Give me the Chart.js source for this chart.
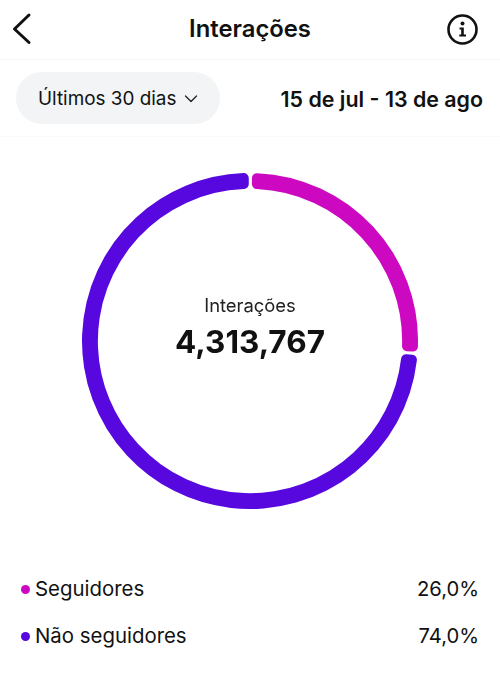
<!DOCTYPE html>
<html lang="pt">
<head>
<meta charset="utf-8">
<title>Interações</title>
<script src="https://cdn.jsdelivr.net/npm/chart.js@4"></script>
<style>
  html, body { margin: 0; padding: 0; background: #fff; }
  body { position: relative; width: 500px; height: 698px; overflow: hidden; font-family: Inter, "Noto Sans", sans-serif; color: #111; }
  .abs { position: absolute; white-space: nowrap; }
  .line { position: absolute; left: 0; width: 500px; height: 1px; }
  #title { left: 0; width: 500px; top: 15px; text-align: center; font-size: 23.8px; line-height: 28px; font-weight: 600; }
  #pill { left: 16px; top: 72px; width: 204px; height: 52px; border-radius: 26px; background: #f2f4f5; }
  #range { left: 38px; top: 87px; font-size: 18.9px; line-height: 24px; }
  #dates { right: 17px; top: 85px; font-size: 21.4px; line-height: 28px; font-weight: 600; }
  #chartBox { position: absolute; left: 82px; top: 173px; width: 336px; height: 336px; }
  #centerLabel { left: 0; width: 500px; top: 294px; text-align: center; font-size: 18.4px; line-height: 22px; color: #222; }
  #centerValue { left: 0; width: 500px; top: 322px; text-align: center; font-size: 31.5px; line-height: 40px; font-weight: 700; }
  .dot { position: absolute; left: 21px; width: 9px; height: 9px; border-radius: 50%; }
  .legendName { left: 35px; font-size: 20.4px; line-height: 26px; }
  .legendPct { right: 21px; font-size: 20.2px; line-height: 26px; }
</style>
</head>
<body>
<svg class="abs" style="left:10px;top:12px" width="24" height="34" viewBox="0 0 24 34">
  <path d="M19 3 L4.5 17 L19 30.5" fill="none" stroke="#111" stroke-width="3" stroke-linecap="round" stroke-linejoin="round"/>
</svg>
<div class="abs" id="title">Interações</div>
<svg class="abs" style="left:446px;top:13px" width="34" height="34" viewBox="0 0 34 34">
  <circle cx="16.5" cy="16.5" r="14" fill="none" stroke="#111" stroke-width="2.6"/>
  <circle cx="16.5" cy="10.5" r="2" fill="#111"/>
  <path d="M13.5 14.5 H17.8 V21.5 H20 V23.6 H13.3 V21.5 H15.2 V16.6 H13.5 Z" fill="#111"/>
</svg>
<div class="line" style="top:59px;background:#f5f5f5"></div>
<div class="abs" id="pill"></div>
<div class="abs" id="range">Últimos 30 dias</div>
<svg class="abs" style="left:183px;top:93px" width="16" height="12" viewBox="0 0 16 12">
  <path d="M2.5 3 L8 8.5 L13.5 3" fill="none" stroke="#222" stroke-width="1.3" stroke-linecap="round" stroke-linejoin="round"/>
</svg>
<div class="abs" id="dates">15 de jul - 13 de ago</div>
<div class="line" style="top:136px;background:#fafafa"></div>

<div id="chartBox"><canvas id="donut"></canvas></div>
<div class="abs" id="centerLabel">Interações</div>
<div class="abs" id="centerValue"></div>
<div id="legend"></div>

<script>
// Chart data
const categories = ["Seguidores", "Não seguidores"];
const shares = [26.0, 74.0];
const colors = ["#CC08C0", "#5608DE"];
const totalInteractions = 4313767;

// Center total
document.getElementById("centerValue").textContent = totalInteractions.toLocaleString("en-US");

// Legend rows under the ring
const legendTops = [576, 623];
document.getElementById("legend").innerHTML = categories
  .map(
    (name, i) => `
    <div class="dot" style="top:${legendTops[i] + 9}px;background:${colors[i]}"></div>
    <div class="abs legendName" style="top:${legendTops[i]}px">${name}</div>
    <div class="abs legendPct" style="top:${legendTops[i]}px">${shares[i].toFixed(1).replace(".", ",")}%</div>
  `
  )
  .join("");

new Chart(document.getElementById("donut").getContext("2d"), {
  type: "doughnut",
  data: {
    labels: categories,
    datasets: [
      {
        data: shares,
        backgroundColor: colors,
        borderWidth: 0,
        borderRadius: 5,
        spacing: 2,
      },
    ],
  },
  options: {
    responsive: true,
    maintainAspectRatio: false,
    animation: false,
    cutout: "90.5%",
    rotation: 0.4,
    plugins: {
      legend: { display: false },
      tooltip: { enabled: false },
    },
  },
});
</script>
</body>
</html>
